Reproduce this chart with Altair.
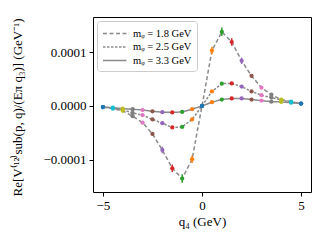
import altair as alt
import pandas as pd

q4 = [-5.0, -4.5, -4.0, -3.5, -3.0, -2.5, -2.0, -1.5, -1.0, -0.5, 0.0,
      0.5, 1.0, 1.5, 2.0, 2.5, 3.0, 3.5, 4.0, 4.5, 5.0]
series = ["mᵩ = 1.8 GeV", "mᵩ = 2.5 GeV", "mᵩ = 3.3 GeV"]

v18 = [-0.02e-4, -0.05e-4, -0.09e-4, -0.19e-4, -0.31e-4, -0.52e-4, -0.82e-4, -1.16e-4, -1.35e-4, -0.99e-4, 0.0,
       1.03e-4, 1.38e-4, 1.19e-4, 0.84e-4, 0.56e-4, 0.34e-4, 0.21e-4, 0.12e-4, 0.08e-4, 0.045e-4]
v25 = [-0.02e-4, -0.04e-4, -0.07e-4, -0.13e-4, -0.17e-4, -0.25e-4, -0.32e-4, -0.40e-4, -0.39e-4, -0.25e-4, 0.0,
       0.27e-4, 0.415e-4, 0.42e-4, 0.36e-4, 0.27e-4, 0.20e-4, 0.156e-4, 0.11e-4, 0.07e-4, 0.045e-4]
v33 = [-0.02e-4, -0.03e-4, -0.05e-4, -0.06e-4, -0.075e-4, -0.10e-4, -0.115e-4, -0.12e-4, -0.11e-4, -0.06e-4, 0.0,
       0.07e-4, 0.12e-4, 0.14e-4, 0.14e-4, 0.12e-4, 0.10e-4, 0.08e-4, 0.075e-4, 0.06e-4, 0.045e-4]

e18 = [0.015e-4, 0.015e-4, 0.02e-4, 0.03e-4, 0.02e-4, 0.03e-4, 0.06e-4, 0.07e-4, 0.08e-4, 0.07e-4, 0.01e-4,
       0.07e-4, 0.08e-4, 0.07e-4, 0.06e-4, 0.03e-4, 0.02e-4, 0.03e-4, 0.02e-4, 0.015e-4, 0.015e-4]
e25 = [0.01e-4] * 10 + [0.01e-4] + [0.015e-4] * 10
e33 = [0.01e-4] * 21

tab10 = ["#1f77b4", "#ff7f0e", "#2ca02c", "#d62728", "#9467bd",
         "#8c564b", "#e377c2", "#7f7f7f", "#bcbd22", "#17becf"]

rows = []
for name, vals, errs in zip(series, [v18, v25, v33], [e18, e25, e33]):
    for q, v, e in zip(q4, vals, errs):
        rows.append({"q": q, "v": v, "lo": v - e, "hi": v + e, "series": name,
                     "ci": str(int(round(abs(q) / 0.5)) % 10)})
df = pd.DataFrame(rows)

FONT = "Liberation Serif"
xs = alt.Scale(domain=[-5.5, 5.5], nice=False, zero=False)
ys = alt.Scale(domain=[-1.6e-4, 1.655e-4], nice=False, zero=False)

x = alt.X("q:Q", scale=xs, axis=alt.Axis(values=[-5, 0, 5], format="d", title="q₄ (GeV)",
                                          labelFontSize=13, titleFontSize=13, titlePadding=3))
y = alt.Y("v:Q", scale=ys, axis=alt.Axis(values=[-1e-4, 0, 1e-4], format=".4f",
                                          title="Re[V⁽¹²⁾sub(p, q)/(Eπ q₃)] (GeV⁻¹)",
                                          labelFontSize=13, titleFontSize=13,
                                          titleX=-76, titleY=90, titleAngle=270,
                                          titleAlign="center", titleBaseline="middle"))

lines = alt.Chart(df).mark_line(color="#8a8a8a", strokeWidth=1.5).encode(
    x=x, y=y,
    strokeDash=alt.StrokeDash("series:N",
                              scale=alt.Scale(domain=series, range=[[4, 2.5], [2.5, 1.5], [1, 0]]),
                              legend=alt.Legend(title=None, orient="top-left", offset=4,
                                                symbolType="M-1,0H2.6", symbolSize=169,
                                                symbolStrokeColor="#8a8a8a", symbolStrokeWidth=1.5,
                                                symbolFillColor="transparent",
                                                labelFont=FONT, labelFontSize=10.5, labelOffset=16,
                                                rowPadding=0.5, padding=5,
                                                fillColor="white", strokeColor="#cccccc",
                                                cornerRadius=3)),
)

color = alt.Color("ci:N", scale=alt.Scale(domain=[str(i) for i in range(10)], range=tab10), legend=None)

bars = alt.Chart(df).mark_rule(strokeWidth=1.5).encode(x="q:Q", y="lo:Q", y2="hi:Q", color=color)
pts = alt.Chart(df).mark_circle(size=18, opacity=1).encode(x="q:Q", y="v:Q", color=color)

chart = alt.layer(lines, bars, pts).properties(
    width=218, height=175,
    background="white",
    autosize=alt.AutoSizeParams(type="none"),
    padding={"left": 85, "top": 9, "right": 1, "bottom": 40},
).configure_view(stroke="black", strokeWidth=1).configure_axis(
    labelFont=FONT, titleFont=FONT, labelColor="black", titleColor="black",
    titleFontWeight="normal", grid=False, domain=False, tickColor="black",
    tickSize=4, labelPadding=3,
)

chart.save("out.html", embed_options={"renderer": "svg", "actions": False})
